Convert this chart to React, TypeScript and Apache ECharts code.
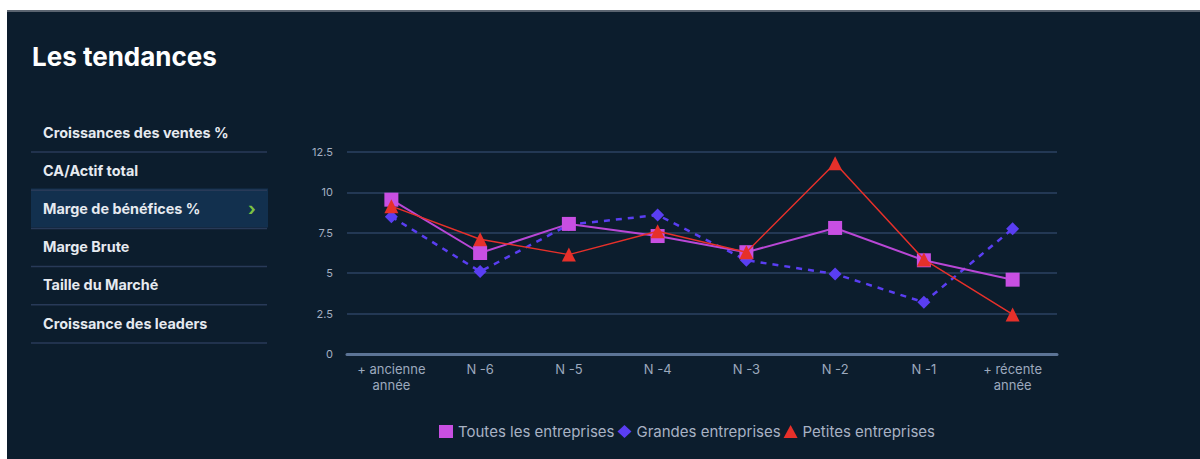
import React, { useEffect, useRef } from "react";
import * as echarts from "echarts";

const categories = ["+ ancienne\nannée", "N -6", "N -5", "N -4", "N -3", "N -2", "N -1", "+ récente\nannée"];
const toutes = [9.55, 6.25, 8.05, 7.3, 6.3, 7.8, 5.8, 4.6];
const grandes = [8.5, 5.1, 8.0, 8.6, 5.8, 4.95, 3.2, 7.75];
const petites = [9.15, 7.1, 6.15, 7.6, 6.3, 11.8, 5.85, 2.45];
const seriesNames = ["Toutes les entreprises", "Grandes entreprises", "Petites entreprises"];
const menuItems = [
  "Croissances des ventes %",
  "CA/Actif total",
  "Marge de bénéfices %",
  "Marge Brute",
  "Taille du Marché",
  "Croissance des leaders",
];
const selectedIndex = 2;
const title = "Les tendances";

const FONT = "Inter, 'Noto Sans', Roboto, sans-serif";

export default function App() {
  const ref = useRef<HTMLDivElement>(null);
  useEffect(() => {
    if (!ref.current) return;
    const chart = echarts.init(ref.current, undefined, { renderer: "svg" });
    const menuTop = 120;
    const step = 38.2;
    const graphics: any[] = [];
    graphics.push({
      type: "rect",
      shape: { x: 24, y: menuTop + step * selectedIndex - 20, width: 237, height: 39 },
      style: { fill: "#12304e" },
      z: 1,
    });
    menuItems.forEach((label, i) => {
      const cy = menuTop + step * i;
      graphics.push({
        type: "text",
        x: 36,
        y: cy,
        style: {
          text: label,
          fill: "#e6eaf0",
          font: `bold 14.4px ${FONT}`,
          textVerticalAlign: "middle",
        },
        z: 3,
      });
      graphics.push({
        type: "line",
        shape: { x1: 24, y1: cy + 20, x2: 260, y2: cy + 20 },
        style: { stroke: "#283a58", lineWidth: 1.5 },
        z: 2,
      });
      if (i === selectedIndex) {
        graphics.push({
          type: "text",
          x: 241,
          y: cy,
          style: {
            text: "›",
            fill: "#7cc242",
            font: `bold 18px ${FONT}`,
            textVerticalAlign: "middle",
          },
          z: 3,
        });
      }
    });
    chart.setOption({
      animation: false,
      backgroundColor: "#0c1d2d",
      textStyle: { fontFamily: FONT },
      title: {
        text: title,
        left: 20,
        top: 26,
        textStyle: { color: "#ffffff", fontSize: 26, fontWeight: "bold", fontFamily: FONT },
      },
      graphic: graphics,
      grid: { left: 340, right: 143, top: 140, bottom: 105, containLabel: false },
      legend: {
        left: 427,
        top: 407,
        itemGap: 3,
        itemWidth: 14,
        itemHeight: 13,
        textStyle: { color: "#a8b2c4", fontSize: 15, fontFamily: FONT },
        data: [
          { name: seriesNames[0], icon: "rect" },
          { name: seriesNames[1], icon: "diamond" },
          { name: seriesNames[2], icon: "triangle" },
        ],
      },
      xAxis: {
        type: "category",
        data: categories,
        boundaryGap: true,
        axisLine: { lineStyle: { color: "#5c7496", width: 3 } },
        axisTick: { alignWithLabel: true, length: 4, lineStyle: { color: "#8a9ab4" } },
        axisLabel: { color: "#9ca9bd", fontSize: 13, lineHeight: 16, margin: 7, interval: 0 },
      },
      yAxis: {
        type: "value",
        min: 0,
        max: 12.5,
        interval: 2.5,
        axisLine: { show: false },
        axisTick: { show: false },
        splitLine: { lineStyle: { color: "#2b4262", width: 1.5 } },
        axisLabel: { color: "#a4b0c2", fontSize: 11, margin: 14 },
      },
      series: [
        {
          name: seriesNames[0],
          type: "line",
          data: toutes,
          symbol: "rect",
          symbolSize: 14,
          itemStyle: { color: "#c84fe2" },
          lineStyle: { color: "#b947d6", width: 2 },
          z: 2,
        },
        {
          name: seriesNames[1],
          type: "line",
          data: grandes,
          symbol: "diamond",
          symbolSize: 13,
          itemStyle: { color: "#5a3ef2" },
          lineStyle: { color: "#5a3ef2", width: 2.5, type: [6, 6] },
          z: 1,
        },
        {
          name: seriesNames[2],
          type: "line",
          data: petites,
          symbol: "triangle",
          symbolSize: 14,
          itemStyle: { color: "#e6302a" },
          lineStyle: { color: "#e6302a", width: 1.5 },
          z: 3,
        },
      ],
    });
    return () => chart.dispose();
  }, []);
  return (
    <div
      style={{
        position: "absolute",
        left: 7,
        top: 10,
        width: 1193,
        height: 449,
        borderTop: "2px solid #5b6470",
        boxSizing: "border-box",
        background: "#0c1d2d",
      }}
    >
      <div ref={ref} style={{ width: 1193, height: 447 }} />
    </div>
  );
}
